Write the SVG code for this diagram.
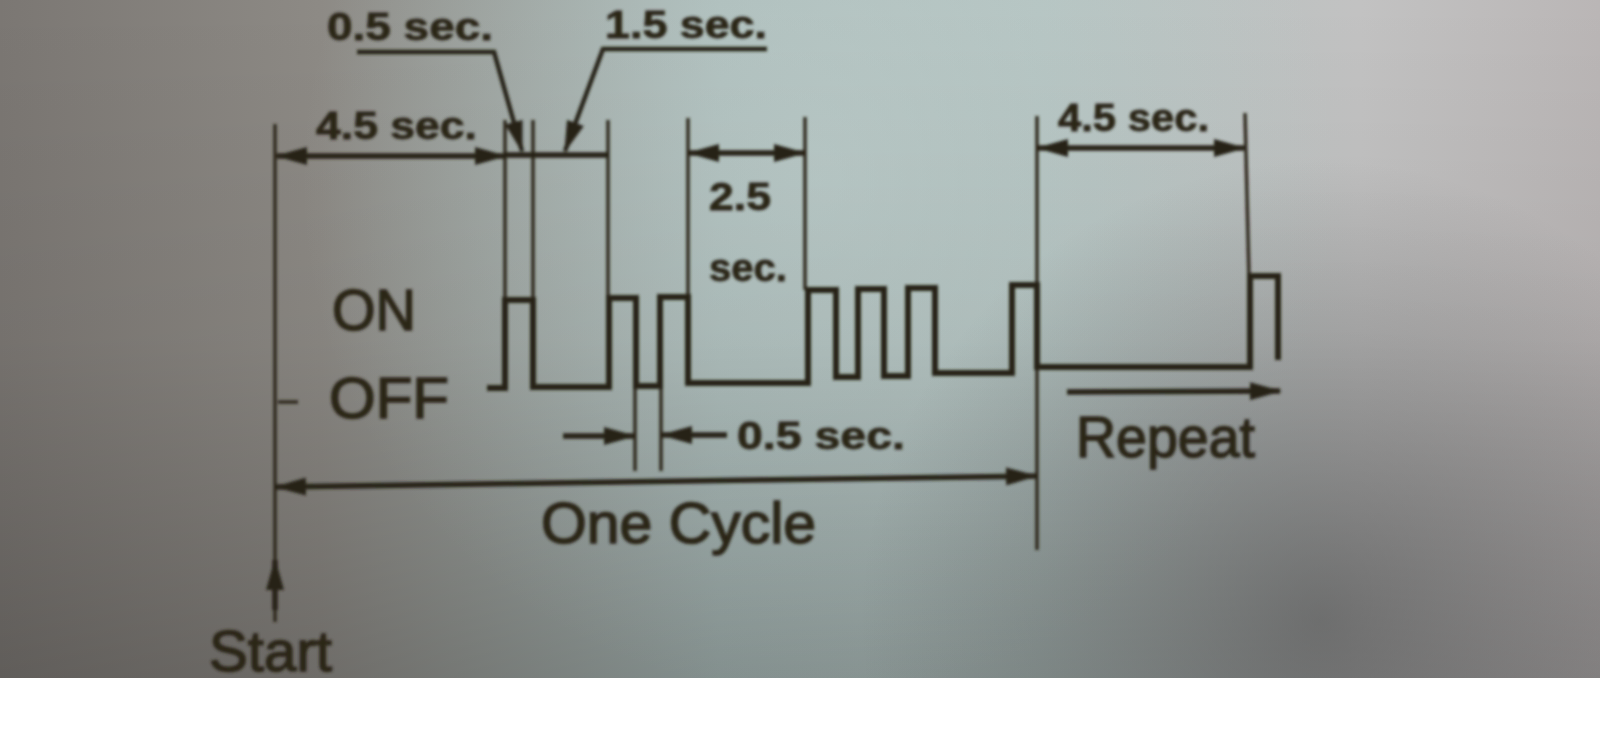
<svg xmlns="http://www.w3.org/2000/svg" width="1600" height="731" viewBox="0 0 1600 731">
  <defs>
    <linearGradient id="bgH" x1="0" y1="0" x2="1" y2="0">
      <stop offset="0" stop-color="#7b7773"/>
      <stop offset="0.2" stop-color="#8d8a85"/>
      <stop offset="0.45" stop-color="#a8b8b6"/>
      <stop offset="0.65" stop-color="#b2c1bf"/>
      <stop offset="0.85" stop-color="#c2c2c2"/>
      <stop offset="1" stop-color="#bab6b6"/>
    </linearGradient>
    <linearGradient id="bgV" x1="0" y1="0" x2="0" y2="1">
      <stop offset="0" stop-color="#000" stop-opacity="0"/>
      <stop offset="0.5" stop-color="#000" stop-opacity="0.05"/>
      <stop offset="1" stop-color="#000" stop-opacity="0.22"/>
    </linearGradient>
    <radialGradient id="darkBR" cx="1320" cy="620" r="460" gradientUnits="userSpaceOnUse">
      <stop offset="0" stop-color="#404040" stop-opacity="0.5"/>
      <stop offset="0.5" stop-color="#404040" stop-opacity="0.25"/>
      <stop offset="1" stop-color="#404040" stop-opacity="0"/>
    </radialGradient>
    <radialGradient id="lightC" cx="820" cy="180" r="520" gradientUnits="userSpaceOnUse">
      <stop offset="0" stop-color="#c6d6d4" stop-opacity="0.5"/>
      <stop offset="1" stop-color="#c6d6d4" stop-opacity="0"/>
    </radialGradient>
    <filter id="soft" x="-5%" y="-5%" width="110%" height="110%">
      <feGaussianBlur stdDeviation="1.7"/>
    </filter>
    <marker id="ah" markerUnits="userSpaceOnUse" markerWidth="32" markerHeight="18" refX="30" refY="9" orient="auto-start-reverse">
      <path d="M0,0 L32,9 L0,18 z" fill="#262115"/>
    </marker>
    <style>
      .wave{fill:none;stroke:#262115;stroke-width:6;stroke-linejoin:miter}
      .ext{stroke:#2d281d;stroke-width:3.5;fill:none}
      .dim{stroke:#262115;stroke-width:5.5;fill:none}
      .lead{stroke:#262115;stroke-width:4.5;fill:none}
      .sm{font-family:"Liberation Sans",Arial,sans-serif;font-weight:bold;font-size:39px;fill:#2a2518;stroke:#2a2518;stroke-width:0.8}
      .lg{font-family:"Liberation Sans",Arial,sans-serif;font-size:57px;fill:#2a2518;stroke:#2a2518;stroke-width:1.6}
    </style>
  </defs>

  <rect x="0" y="0" width="1600" height="731" fill="#ffffff"/>
  <g id="photo-background">
    <rect x="0" y="0" width="1600" height="678" fill="url(#bgH)"/>
    <rect x="0" y="0" width="1600" height="678" fill="url(#lightC)"/>
    <rect x="0" y="0" width="1600" height="678" fill="url(#bgV)"/>
    <rect x="0" y="0" width="1600" height="678" fill="url(#darkBR)"/>
  </g>

  <g id="diagram" filter="url(#soft)">
    <g id="extension-lines">
      <line class="ext" x1="275" y1="124" x2="275" y2="622"/>
      <line class="ext" x1="278" y1="402" x2="298" y2="402"/>
      <line class="ext" x1="505" y1="120" x2="505" y2="300"/>
      <line class="ext" x1="533" y1="120" x2="533" y2="300"/>
      <line class="ext" x1="608" y1="120" x2="608" y2="298"/>
      <line class="ext" x1="688" y1="118" x2="688" y2="297"/>
      <line class="ext" x1="805" y1="117" x2="805" y2="290"/>
      <line class="ext" x1="1037" y1="116" x2="1037" y2="550"/>
      <line class="ext" x1="1245" y1="113" x2="1249" y2="278"/>
      <line class="ext" x1="635" y1="386" x2="635" y2="471"/>
      <line class="ext" x1="661" y1="386" x2="661" y2="471"/>
    </g>

    <g id="waveform">
      <path class="wave" d="M487 388 H505 V300 H533 V387 H609 V298 H636 V386 H660 V297 H688 V383 H808 V290 H836 V377 H858 V289 H884 V376 H908 V288 H935 V373 H1012 V285 H1037 V367 H1250 V276 H1278 V360"/>
    </g>

    <g id="connectors">
      <line class="dim" x1="277" y1="156" x2="505" y2="156" marker-start="url(#ah)" marker-end="url(#ah)"/>
      <line class="dim" x1="505" y1="155" x2="608" y2="155"/>
      <line class="dim" x1="689" y1="153" x2="804" y2="153" marker-start="url(#ah)" marker-end="url(#ah)"/>
      <line class="dim" x1="1038" y1="148" x2="1244" y2="148" marker-start="url(#ah)" marker-end="url(#ah)"/>
      <line class="dim" x1="276" y1="487" x2="1036" y2="476" marker-start="url(#ah)" marker-end="url(#ah)"/>
      <line class="dim" x1="563" y1="436" x2="634" y2="436" marker-end="url(#ah)"/>
      <line class="dim" x1="727" y1="435" x2="662" y2="435" marker-end="url(#ah)"/>
      <line class="dim" x1="1067" y1="392" x2="1280" y2="391" marker-end="url(#ah)"/>
      <line class="dim" x1="275" y1="610" x2="275" y2="560" marker-end="url(#ah)"/>
      <polyline class="lead" points="357,52 494,52 522,151" marker-end="url(#ah)"/>
      <polyline class="lead" points="767,49 603,49 565,151" marker-end="url(#ah)"/>
    </g>

    <g id="labels">
      <text class="sm" x="327" y="40" textLength="166" lengthAdjust="spacingAndGlyphs">0.5 sec.</text>
      <text class="sm" x="605" y="38" textLength="162" lengthAdjust="spacingAndGlyphs">1.5 sec.</text>
      <text class="sm" x="316" y="139" textLength="161" lengthAdjust="spacingAndGlyphs">4.5 sec.</text>
      <text class="sm" x="1058" y="131" textLength="151" lengthAdjust="spacingAndGlyphs">4.5 sec.</text>
      <text class="sm" x="709" y="210" textLength="62" lengthAdjust="spacingAndGlyphs">2.5</text>
      <text class="sm" x="709" y="281" textLength="78" lengthAdjust="spacingAndGlyphs">sec.</text>
      <text class="sm" x="737" y="449" textLength="168" lengthAdjust="spacingAndGlyphs">0.5 sec.</text>
      <text class="lg" x="332" y="330" textLength="84" lengthAdjust="spacingAndGlyphs">ON</text>
      <text class="lg" x="329" y="418" textLength="120" lengthAdjust="spacingAndGlyphs">OFF</text>
      <text class="lg" x="1076" y="457" textLength="179" lengthAdjust="spacingAndGlyphs">Repeat</text>
      <text class="lg" x="541" y="543" textLength="275" lengthAdjust="spacingAndGlyphs">One Cycle</text>
      <text class="lg" x="209" y="671" textLength="123" lengthAdjust="spacingAndGlyphs">Start</text>
    </g>
  </g>
</svg>
